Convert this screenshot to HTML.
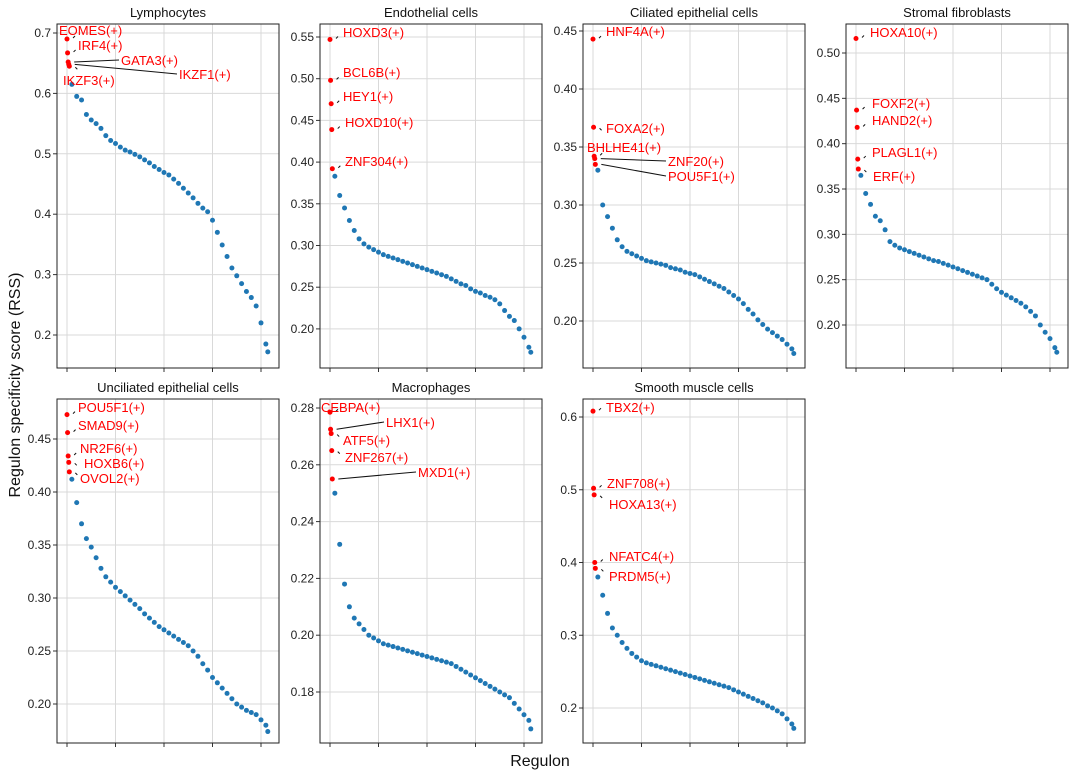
<!DOCTYPE html>
<html><head><meta charset="utf-8"><style>
body{margin:0;background:#fff;}
svg{display:block;font-family:"Liberation Sans","DejaVu Sans",sans-serif;}
</style></head><body>
<svg id="fig" width="1080" height="775"></svg>
<script>
// ---- data ----
const titles = ["Lymphocytes","Endothelial cells","Ciliated epithelial cells","Stromal fibroblasts","Unciliated epithelial cells","Macrophages","Smooth muscle cells"];
const topNames = [
 ["EOMES(+)","IRF4(+)","GATA3(+)","IKZF1(+)","IKZF3(+)"],
 ["HOXD3(+)","BCL6B(+)","HEY1(+)","HOXD10(+)","ZNF304(+)"],
 ["HNF4A(+)","FOXA2(+)","BHLHE41(+)","ZNF20(+)","POU5F1(+)"],
 ["HOXA10(+)","FOXF2(+)","HAND2(+)","PLAGL1(+)","ERF(+)"],
 ["POU5F1(+)","SMAD9(+)","NR2F6(+)","HOXB6(+)","OVOL2(+)"],
 ["CEBPA(+)","LHX1(+)","ATF5(+)","ZNF267(+)","MXD1(+)"],
 ["TBX2(+)","ZNF708(+)","HOXA13(+)","NFATC4(+)","PRDM5(+)"]];
const topValues = [
 [0.69,0.667,0.652,0.648,0.645],
 [0.547,0.498,0.47,0.439,0.392],
 [0.443,0.367,0.342,0.340,0.335],
 [0.516,0.437,0.418,0.383,0.372],
 [0.473,0.456,0.434,0.428,0.419],
 [0.2785,0.2725,0.271,0.265,0.255],
 [0.608,0.502,0.493,0.400,0.392]];
// blue values at ranks 5,10,...,205, then last (207)
const restValues = [
 [.615,.595,.589,.565,.556,.55,.542,.53,.522,.517,.511,.506,.503,.499,.495,.49,.485,.479,.474,.469,.465,.458,.451,.443,.435,.427,.418,.41,.404,.39,.37,.349,.33,.311,.298,.285,.272,.262,.248,.22,.185,.172],
 [.383,.36,.345,.33,.318,.308,.302,.298,.295,.292,.289,.287,.285,.283,.281,.279,.277,.275,.273,.271,.269,.267,.265,.263,.26,.257,.254,.252,.248,.245,.243,.24,.238,.235,.23,.222,.215,.21,.2,.19,.178,.172],
 [.33,.30,.29,.28,.27,.264,.26,.258,.256,.254,.252,.251,.25,.249,.248,.246,.245,.244,.242,.241,.24,.238,.236,.234,.232,.23,.228,.225,.222,.219,.215,.21,.206,.201,.197,.193,.19,.187,.184,.18,.176,.172],
 [.365,.345,.333,.32,.315,.305,.292,.288,.285,.283,.281,.279,.277,.275,.273,.271,.27,.268,.266,.264,.262,.26,.258,.256,.254,.252,.25,.245,.24,.236,.233,.23,.227,.224,.22,.215,.21,.2,.192,.185,.175,.17],
 [.412,.39,.37,.356,.348,.338,.328,.32,.315,.31,.306,.302,.298,.294,.29,.285,.281,.277,.273,.27,.267,.264,.261,.258,.255,.25,.245,.238,.232,.225,.22,.215,.21,.205,.2,.197,.194,.192,.19,.185,.18,.174],
 [.25,.232,.218,.21,.206,.204,.202,.2,.199,.198,.197,.1965,.196,.1955,.195,.1945,.194,.1935,.193,.1925,.192,.1915,.191,.1905,.19,.189,.188,.187,.186,.185,.184,.183,.182,.181,.18,.179,.178,.176,.174,.172,.17,.167],
 [.38,.355,.33,.31,.3,.29,.282,.275,.27,.265,.262,.26,.258,.256,.254,.252,.25,.248,.246,.244,.242,.24,.238,.236,.234,.232,.23,.228,.225,.222,.219,.216,.213,.21,.207,.203,.2,.196,.192,.185,.178,.172]];
const yTicks = [
 [0.2,0.3,0.4,0.5,0.6,0.7],
 [0.20,0.25,0.30,0.35,0.40,0.45,0.50,0.55],
 [0.20,0.25,0.30,0.35,0.40,0.45],
 [0.20,0.25,0.30,0.35,0.40,0.45,0.50],
 [0.20,0.25,0.30,0.35,0.40,0.45],
 [0.18,0.20,0.22,0.24,0.26,0.28],
 [0.2,0.3,0.4,0.5,0.6]];
const xTicks = [0,50,100,150,200];
// ---- layout ----
const tickDec=[1,2,2,2,2,2,1];
const yRef=[[.7,33,604],[.55,37,834],[.45,31,1160],[.5,53,906.7],[.45,439,1060],[.28,408,2840],[.6,417,727.5]];
const lblPos=[
 [[59,30],[78,45],[121,60],[179,74],[63,80]],
 [[343,32],[343,72],[343,96],[345,122],[345,161]],
 [[606,31],[606,128],[587,147],[668,161],[668,176]],
 [[870,32],[872,103],[872,120],[872,152],[873,176]],
 [[78,407],[78,425],[80,448],[84,463],[80,478]],
 [[321,407],[386,422],[343,440],[345,457],[418,472]],
 [[606,407],[607,483],[609,504],[609,556],[609,576]]];
const svg=document.getElementById('fig');
const NS='http://www.w3.org/2000/svg';
function mk(t,a,p){const e=document.createElementNS(NS,t);for(const k in a)e.setAttribute(k,a[k]);(p||svg).appendChild(e);return e;}
for(let p=0;p<7;p++){
 const col=p<4?p:p-4,row=p<4?0:1;
 const L=57+263*col,R=L+222,T=row?399:24,B=row?743:368;
 const x0=L+10,dx=0.97;
 const X=r=>x0+r*dx;
 const Y=v=>yRef[p][1]+(yRef[p][0]-v)*yRef[p][2];
 const g=mk('g',{});
 
 
 for(const t of yTicks[p]){const y=Y(t);
  mk('line',{x1:L,x2:R,y1:y,y2:y,stroke:'#d9d9d9','stroke-width':1},g);
  mk('line',{x1:L-4,x2:L,y1:y,y2:y,stroke:'#333'},g);
  const tx=mk('text',{x:L-6,y:y+4,'text-anchor':'end','font-size':12,fill:'#222'},g);tx.textContent=t.toFixed(tickDec[p]);
  
  
 }
 for(const t of xTicks){const x=X(t);
  mk('line',{x1:x,x2:x,y1:T,y2:B,stroke:'#d9d9d9','stroke-width':1},g);
  mk('line',{x1:x,x2:x,y1:B,y2:B+4,stroke:'#333'},g);
 }
 const tt=mk('text',{x:(L+R)/2,y:T-7,'text-anchor':'middle','font-size':13,fill:'#111'},g);tt.textContent=titles[p];
 
 
 const rv=restValues[p];
 for(let i=0;i<rv.length;i++){const r=i<rv.length-1?5+5*i:207;
  const c=mk('circle',{cx:X(r),cy:Y(rv[i]),r:2.5,fill:'#1f77b4'},g);
  
  
 }
 for(let i=0;i<5;i++){const cx=X(i*0.6),cy=Y(topValues[p][i]);
  const c=mk('circle',{cx:cx,cy:cy,r:2.5,fill:'#ff0000'},g);
  
  
  const [lx,ly]=lblPos[p][i];
  if(lx-cx>30) mk('line',{x1:cx+6,y1:cy,x2:lx-2,y2:ly,stroke:'#111','stroke-width':1},g);
  else mk('line',{x1:cx+6,y1:cy+(ly<cy?-1:1),x2:cx+8,y2:cy+(ly<cy?-3:3),stroke:'#111','stroke-width':1},g);
  const lt=mk('text',{x:lx,y:ly+5,'font-size':13,fill:'#ff0000'},g);lt.textContent=topNames[p][i];
  
  
 }
 mk('rect',{x:L,y:T,width:R-L,height:B-T,fill:'none',stroke:'#222','stroke-width':1},g);
}
const yl=mk('text',{x:20,y:385,'text-anchor':'middle','font-size':16,fill:'#111',transform:'rotate(-90 20 385)'});yl.textContent='Regulon specificity score (RSS)';


const xl=mk('text',{x:540,y:766,'text-anchor':'middle','font-size':16,fill:'#111'});xl.textContent='Regulon';


</script>
</body></html>
